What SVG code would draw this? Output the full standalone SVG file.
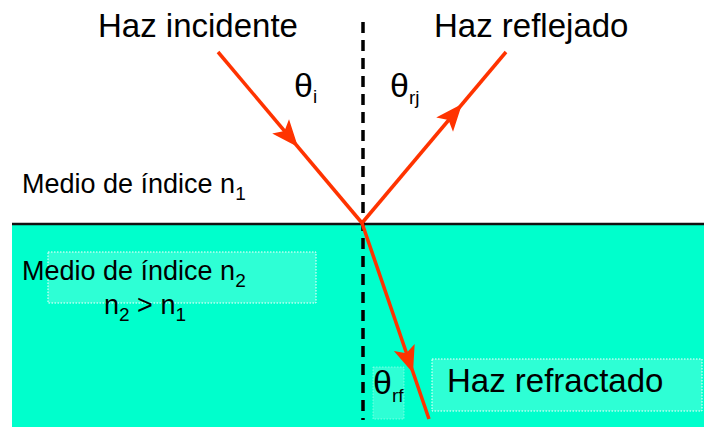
<svg xmlns="http://www.w3.org/2000/svg" width="704" height="427" viewBox="0 0 704 427">
<defs>
<style>
text{font-family:"Liberation Sans",Arial,sans-serif;fill:#000}
.big{font-size:33px}
.mid{font-size:27px}
.th{font-size:34px}
.sub{font-size:19px}
.ray{stroke:#FF3300;stroke-width:3.5;fill:none}
.box{fill:#FFFFFF;fill-opacity:0.18;stroke:#FFFFFF;stroke-width:1;stroke-dasharray:1.5,1.5}
</style>
<path id="ah" d="M0,0 L-27,-11 L-21,0 L-27,11 Z" fill="#FF3300"/>
</defs>
<rect x="12" y="224" width="692" height="203" fill="#00FFCC"/>
<line x1="12" y1="224" x2="704" y2="224" stroke="#111" stroke-width="2.5"/>
<g id="boxes">
<rect class="box" x="48" y="252" width="268" height="51"/>
<rect class="box" x="373" y="367" width="31" height="52" stroke-opacity="0.4"/>
<rect class="box" x="432" y="359" width="270" height="52"/>
</g>
<g id="connectors">
<line x1="363" y1="22" x2="363" y2="420" stroke="#000" stroke-width="3.5" stroke-dasharray="11,7"/>
<line class="ray" x1="218" y1="52" x2="362" y2="223"/>
<line class="ray" x1="362" y1="223" x2="506" y2="52"/>
<line class="ray" x1="362" y1="223" x2="429" y2="419"/>
<use href="#ah" transform="translate(298,147) rotate(49.9)"/>
<use href="#ah" transform="translate(462,104) rotate(-49.9)"/>
<use href="#ah" transform="translate(413,373) rotate(71.1)"/>
</g>
<g id="incidente"><text class="big" x="98" y="37">Haz incidente</text></g>
<g id="reflejado"><text class="big" x="434" y="37">Haz reflejado</text></g>
<g id="theta-i"><text class="th" x="294" y="97">θ<tspan class="sub" dy="6">i</tspan></text></g>
<g id="theta-rj"><text class="th" x="390" y="97">θ<tspan class="sub" dy="7">rj</tspan></text></g>
<g id="medio1"><text class="mid" x="22" y="193">Medio de índice n<tspan class="sub" dy="7">1</tspan></text></g>
<g id="medio2"><text class="mid" x="22" y="280">Medio de índice n<tspan class="sub" dy="7">2</tspan></text>
<text class="mid" x="104" y="314">n<tspan class="sub" dy="7">2</tspan><tspan dy="-7"> &gt; n</tspan><tspan class="sub" dy="7">1</tspan></text></g>
<g id="theta-rf"><text class="th" x="373" y="394">θ<tspan class="sub" dy="8">rf</tspan></text></g>
<g id="refractado"><text class="big" x="447" y="392">Haz refractado</text></g>
</svg>
